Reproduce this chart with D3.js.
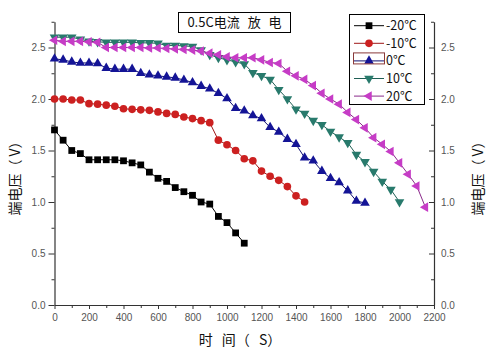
<!DOCTYPE html>
<html><head><meta charset="utf-8">
<script src="https://cdn.jsdelivr.net/npm/d3@7"></script>
<style>body{margin:0;background:#fff}svg{display:block}</style>
</head><body>
<svg id="c" width="502" height="349"></svg>
<script>
const times20m = [0,50,100,150,200,250,300,350,400,450,500,550,600,650,700,750,800,850,900,950,1000,1050,1100];
const volts20m = [1.70,1.60,1.50,1.47,1.41,1.41,1.41,1.41,1.40,1.38,1.36,1.29,1.23,1.20,1.14,1.10,1.065,1.00,0.98,0.86,0.80,0.70,0.60];
const volts10m = [2.00,2.00,1.99,1.99,1.955,1.95,1.94,1.93,1.905,1.90,1.895,1.89,1.875,1.86,1.85,1.825,1.81,1.79,1.77,1.60,1.556,1.50,1.42,1.40,1.30,1.25,1.21,1.15,1.06,1.00];
const volts0 = [2.39,2.38,2.36,2.35,2.35,2.345,2.30,2.29,2.29,2.29,2.25,2.235,2.225,2.215,2.205,2.185,2.16,2.125,2.10,2.055,2.005,1.91,1.885,1.84,1.81,1.725,1.68,1.61,1.56,1.43,1.40,1.30,1.23,1.19,1.11,1.01,0.99];
const volts10 = [2.60,2.60,2.60,2.58,2.56,2.555,2.55,2.55,2.55,2.55,2.545,2.545,2.54,2.52,2.52,2.515,2.51,2.475,2.43,2.40,2.38,2.36,2.34,2.255,2.225,2.19,2.09,2.00,1.90,1.86,1.79,1.75,1.685,1.63,1.575,1.46,1.39,1.295,1.20,1.12,1.00];
const volts20 = [2.57,2.56,2.56,2.56,2.555,2.55,2.50,2.50,2.50,2.50,2.50,2.495,2.495,2.49,2.485,2.48,2.475,2.465,2.445,2.43,2.41,2.40,2.40,2.40,2.38,2.355,2.345,2.27,2.225,2.19,2.13,2.055,2.00,1.95,1.87,1.80,1.72,1.625,1.56,1.49,1.38,1.27,1.155,0.95];
const seriesNames = ["-20℃","-10℃","0℃","10℃","20℃"];
const xTicks = [0,200,400,600,800,1000,1200,1400,1600,1800,2000,2200];
const yTicks = [0.0,0.5,1.0,1.5,2.0,2.5];
const titleText = "0.5C电流 放 电";

const step = 50;
const mk = v => v.map((y,i)=>({t:i*step, v:y}));
const series = [
  {name:seriesNames[0], data:mk(volts20m), color:"#000000", line:"#000000", sym:d3.symbolSquare, size:46, rot:0},
  {name:seriesNames[1], data:mk(volts10m), color:"#cc2020", line:"#a01818", sym:d3.symbolCircle, size:46, rot:0},
  {name:seriesNames[2], data:mk(volts0),   color:"#141496", line:"#101070", sym:d3.symbolTriangle, size:40, rot:0},
  {name:seriesNames[3], data:mk(volts10),  color:"#287a6c", line:"#1f5f55", sym:d3.symbolTriangle, size:40, rot:180},
  {name:seriesNames[4], data:mk(volts20),  color:"#c63cc6", line:"#8a2a8a", sym:d3.symbolTriangle, size:40, rot:-90}
];

const svg = d3.select("#c");
const x = d3.scaleLinear().domain([0,2200]).range([54.5,434]);
const y = d3.scaleLinear().domain([0,2.75]).range([305,21.75]);
const tickFont = "Liberation Sans, Arial, sans-serif";
const cjk = "'Noto Sans CJK SC', sans-serif";

function style(g){
  g.select(".domain").attr("stroke","#333").attr("stroke-width",1.2);
  g.selectAll(".tick line").attr("stroke","#333");
  g.selectAll(".tick text").attr("fill","#555").attr("font-family",tickFont).attr("font-size",10);
}
const minorY = d3.range(0.25,2.76,0.5);
const minorX = d3.range(100,2200,200);

// left axis
svg.append("g").attr("transform","translate(54.5,0)")
  .call(d3.axisLeft(y).tickValues(yTicks).tickSize(6).tickSizeOuter(0).tickPadding(3).tickFormat(d3.format(".1f"))).call(style);
svg.append("g").attr("transform","translate(54.5,0)")
  .call(d3.axisLeft(y).tickValues(minorY).tickSize(3).tickFormat("")).call(g=>{g.select(".domain").remove();g.selectAll("line").attr("stroke","#333");});
// right axis (ticks point inward, labels outside)
svg.append("g").attr("transform","translate(434,0)")
  .call(d3.axisRight(y).tickValues(yTicks).tickSize(0).tickSizeOuter(0).tickPadding(7).tickFormat(d3.format(".1f"))).call(style);
svg.append("g").attr("transform","translate(434,0)")
  .call(d3.axisLeft(y).tickValues(yTicks).tickSize(5).tickFormat("")).call(g=>{g.select(".domain").remove();g.selectAll("line").attr("stroke","#333");});
svg.append("g").attr("transform","translate(434,0)")
  .call(d3.axisLeft(y).tickValues(minorY).tickSize(3).tickFormat("")).call(g=>{g.select(".domain").remove();g.selectAll("line").attr("stroke","#333");});
// bottom axis
svg.append("g").attr("transform","translate(0,305)")
  .call(d3.axisBottom(x).tickValues(xTicks).tickSize(4).tickSizeOuter(0).tickPadding(5).tickFormat(d3.format("d"))).call(style);
svg.append("g").attr("transform","translate(0,305)")
  .call(d3.axisBottom(x).tickValues(minorX).tickSize(3).tickFormat("")).call(g=>{g.select(".domain").remove();g.selectAll("line").attr("stroke","#333");});

// series
const line = d3.line().x(d=>x(d.t)).y(d=>y(d.v));
series.forEach(s=>{
  svg.append("path").datum(s.data).attr("d",line).attr("fill","none").attr("stroke",s.line).attr("stroke-width",1);
  const sym = d3.symbol().type(s.sym).size(s.size);
  svg.append("g").selectAll("path").data(s.data).join("path")
    .attr("d",sym).attr("fill",s.color)
    .attr("transform",d=>`translate(${x(d.t)},${y(d.v)}) rotate(${s.rot})`);
});

// title box
svg.append("rect").attr("x",178.5).attr("y",12.5).attr("width",112).attr("height",20).attr("fill","#fff").attr("stroke","#000");
svg.append("text").attr("x",234.5).attr("y",27).attr("text-anchor","middle").attr("font-size",13)
  .attr("word-spacing",5).attr("fill","#111").attr("font-family",cjk).text(titleText);

// legend
svg.append("rect").attr("x",349.5).attr("y",14.5).attr("width",75).attr("height",90).attr("fill","#fff").attr("stroke","#000");
series.forEach((s,i)=>{
  const cy = 25.7 + i*17.6;
  svg.append("line").attr("x1",354).attr("x2",384).attr("y1",cy).attr("y2",cy).attr("stroke",s.line).attr("stroke-width",1);
  svg.append("path").attr("d",d3.symbol().type(s.sym).size(s.size)()).attr("fill",s.color)
    .attr("transform",`translate(369,${cy}) rotate(${s.rot})`);
  svg.append("text").attr("x",386).attr("y",cy+4.5).attr("font-size",12.5).attr("font-family",cjk).attr("fill","#111").text(s.name);
  if(i===2){
    svg.append("rect").attr("x",353.5).attr("y",cy-8).attr("width",31).attr("height",11).attr("fill","none").attr("stroke","#8a3a3a").attr("stroke-width",1);
  }
});

// axis titles
svg.append("text").attr("transform","translate(20,175) rotate(-90)").attr("text-anchor","middle")
  .attr("font-size",14).attr("font-family",cjk).attr("fill","#111").text("端电压（ V）");
svg.append("text").attr("transform","translate(483,175) rotate(-90)").attr("text-anchor","middle")
  .attr("font-size",14).attr("font-family",cjk).attr("fill","#111").text("端电压（ V）");
svg.append("text").attr("x",240).attr("y",345).attr("text-anchor","middle").attr("word-spacing",6)
  .attr("font-size",14).attr("font-family",cjk).attr("fill","#111").text("时 间（ S）");
</script>
</body></html>
